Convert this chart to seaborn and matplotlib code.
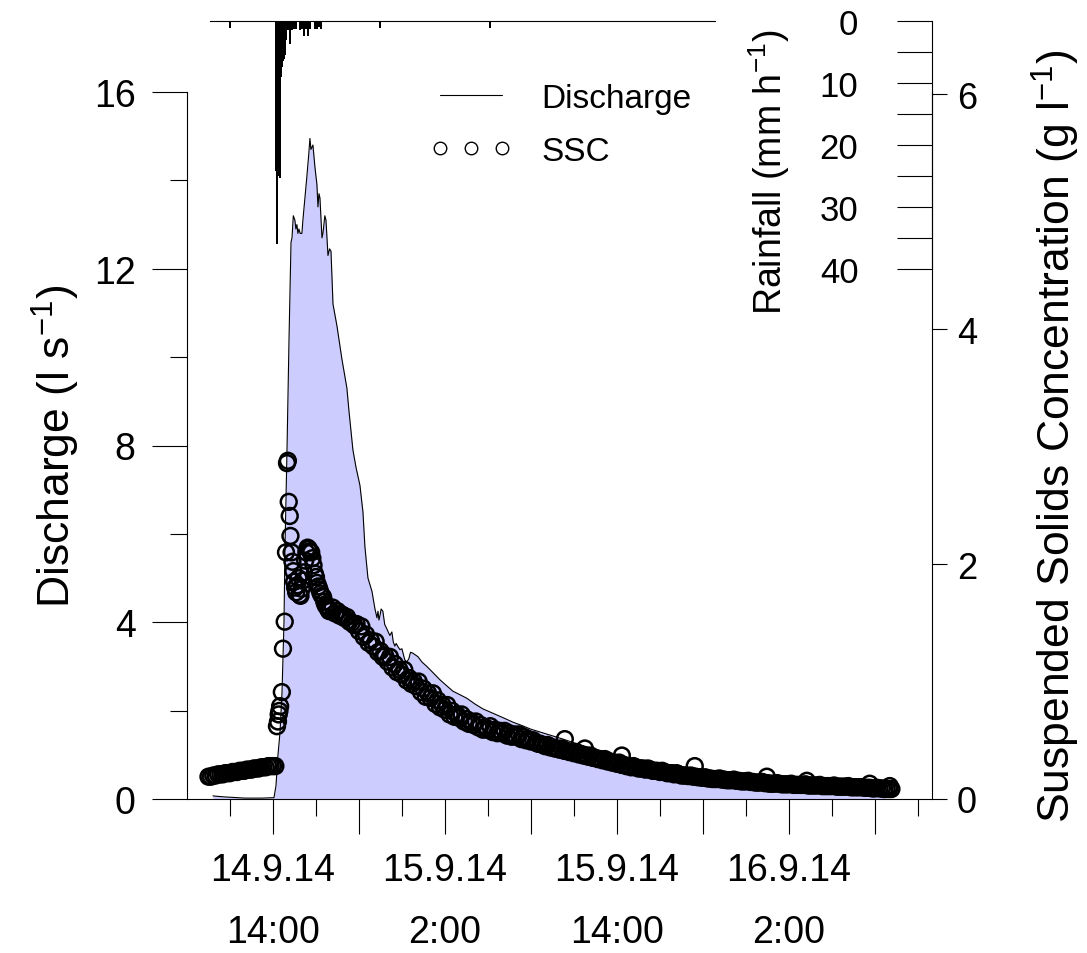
# Discharge, SSC and rainfall for the 14-16.9.14 event (hours after 14.9.14 00:00)

import numpy as np
import pandas as pd
import seaborn as sns
import matplotlib.pyplot as plt
from matplotlib.lines import Line2D

# Discharge (l/s)
q_hours = [9.81, 10.5, 11.0, 12.05, 13.23, 14.07, 14.21, 14.35, 14.49, 14.63, 14.77, 14.84,
           14.98, 15.12, 15.26, 15.33, 15.42, 15.53, 15.60, 15.67, 15.74, 15.81, 15.90, 16.02,
           16.09, 16.23, 16.37, 16.50, 16.58, 16.65, 16.72, 16.79, 16.93, 17.07, 17.14, 17.21,
           17.28, 17.42, 17.49, 17.62, 17.70, 17.84, 17.95, 18.05, 18.19, 18.47, 18.81, 19.16,
           19.30, 19.58, 19.80, 20.07, 20.28, 20.42, 20.63, 20.91, 21.12, 21.26, 21.33, 21.40,
           21.47, 21.55, 21.67, 21.80, 21.95, 22.16, 22.30, 22.40, 22.51, 22.60, 22.72, 22.86,
           23.00, 23.20, 23.35, 23.49, 23.60, 23.77, 24.12, 24.40, 24.74, 25.20, 25.65, 26.10,
           26.56, 27.05, 27.53, 28.10, 28.65, 29.5, 30.2, 30.74, 31.4, 32.0, 33.0, 34.2,
           35.5, 36.8, 38.5, 40.3, 42.0, 43.8, 45.5, 47.3, 49.0, 50.8, 52.5, 54.3, 55.5, 56.7]
q_values = [0.07, 0.05, 0.04, 0.02, 0.02, 0.03, 0.30, 1.0, 1.5, 2.4, 4.0, 5.7,
            7.9, 10.4, 12.6, 12.7, 13.2, 13.1, 12.9, 13.0, 12.8, 12.9, 12.8, 12.8,
            13.1, 13.6, 14.1, 14.6, 14.95, 14.7, 14.75, 14.8, 14.3, 13.9, 13.4, 13.7,
            13.6, 12.7, 12.8, 13.2, 13.1, 12.3, 12.45, 12.4, 11.2, 10.7, 9.96, 9.3,
            8.8, 7.9, 7.5, 7.1, 6.5, 5.7, 5.0, 4.7, 4.3, 4.1, 4.25, 4.05,
            4.15, 4.3, 4.25, 3.95, 3.85, 3.7, 3.78, 3.55, 3.46, 3.52, 3.45, 3.38,
            3.4, 3.15, 3.1, 3.18, 3.32, 3.3, 3.22, 3.1, 3.0, 2.85, 2.7, 2.57,
            2.44, 2.36, 2.28, 2.15, 2.04, 1.92, 1.82, 1.74, 1.66, 1.58, 1.48, 1.36,
            1.22, 1.10, 0.96, 0.82, 0.71, 0.60, 0.52, 0.45, 0.39, 0.33, 0.28, 0.24, 0.21, 0.17]

# SSC (g/l): pre-event logger (10 min), event samples, recession logger (10 min)
ssc_pre_hours = np.arange(9.5, 14.2, 1 / 6)
ssc_pre = [0.19, 0.19, 0.20, 0.20, 0.21, 0.21, 0.21, 0.22, 0.22, 0.22, 0.23, 0.23, 0.23, 0.24, 0.24,
           0.24, 0.25, 0.25, 0.25, 0.26, 0.26, 0.26, 0.27, 0.27, 0.27, 0.28, 0.28, 0.28, 0.28]

ssc_event_hours = [14.28, 14.35, 14.40, 14.45, 14.50, 14.62, 14.70, 14.82, 14.91, 14.98, 15.04,
                   15.10, 15.17, 15.22, 15.30, 15.36, 15.42, 15.48, 15.55, 15.62, 15.70, 15.78,
                   15.85, 15.92, 16.00, 16.08, 16.16, 16.25, 16.33, 16.42, 16.50, 16.58, 16.67,
                   16.75, 16.83, 16.92, 17.00, 17.08, 17.17, 17.25, 17.33, 17.42, 17.50, 17.58,
                   17.67, 17.75, 17.83, 17.92,
                   34.37, 35.77, 38.35, 43.44, 48.47, 51.26, 55.65, 57.05]
ssc_event = [0.62, 0.66, 0.72, 0.75, 0.79, 0.91, 1.28, 1.51, 2.10, 2.86, 2.88,
             2.53, 2.41, 2.24, 2.10, 2.02, 1.94, 1.85, 1.80, 1.76, 1.82, 1.88,
             1.74, 1.73, 1.79, 1.86, 1.93, 2.03, 2.10, 2.14, 2.13, 2.11, 2.10,
             2.05, 1.99, 1.92, 1.89, 1.84, 1.81, 1.78, 1.75, 1.73, 1.72, 1.68,
             1.65, 1.64, 1.62, 1.60,
             0.51, 0.43, 0.37, 0.28, 0.19, 0.155, 0.13, 0.11]

ssc_tail_hours = np.arange(18.0, 57.2, 1 / 6)
ssc_tail = [1.61, 1.63, 1.58, 1.60, 1.56, 1.57,   # 18 h
            1.54, 1.55, 1.51, 1.50, 1.48, 1.49,
            1.43, 1.47, 1.38, 1.40, 1.33, 1.35,   # 20 h
            1.30, 1.34, 1.25, 1.26, 1.21, 1.22,
            1.17, 1.21, 1.12, 1.15, 1.08, 1.10,
            1.06, 1.10, 1.01, 1.03, 0.98, 1.00,
            0.96, 1.00, 0.91, 0.94, 0.87, 0.90,   # 24 h
            0.86, 0.90, 0.81, 0.84, 0.78, 0.80,
            0.76, 0.80, 0.72, 0.75, 0.70, 0.72,
            0.69, 0.72, 0.66, 0.68, 0.64, 0.66,
            0.63, 0.66, 0.61, 0.63, 0.59, 0.61,   # 28 h
            0.59, 0.62, 0.57, 0.59, 0.56, 0.58,
            0.56, 0.58, 0.54, 0.56, 0.53, 0.55,
            0.53, 0.55, 0.51, 0.53, 0.50, 0.51,
            0.49, 0.50, 0.48, 0.47, 0.47, 0.46,   # 32 h
            0.45, 0.46, 0.44, 0.44, 0.43, 0.43,
            0.42, 0.43, 0.41, 0.41, 0.40, 0.40,
            0.39, 0.40, 0.38, 0.38, 0.37, 0.37,
            0.36, 0.37, 0.35, 0.35, 0.34, 0.34,   # 36 h
            0.33, 0.34, 0.32, 0.32, 0.31, 0.31,
            0.30, 0.31, 0.29, 0.29, 0.28, 0.28,
            0.27, 0.28, 0.27, 0.26, 0.26, 0.26,
            0.25, 0.26, 0.25, 0.24, 0.24, 0.24,   # 40 h
            0.23, 0.24, 0.23, 0.22, 0.22, 0.22,
            0.21, 0.22, 0.21, 0.20, 0.20, 0.20,
            0.195, 0.20, 0.19, 0.19, 0.185, 0.185,
            0.18, 0.185, 0.175, 0.175, 0.17, 0.17,   # 44 h
            0.17, 0.175, 0.165, 0.165, 0.16, 0.16,
            0.16, 0.165, 0.155, 0.155, 0.15, 0.15,
            0.15, 0.155, 0.145, 0.145, 0.14, 0.14,
            0.14, 0.145, 0.135, 0.135, 0.13, 0.13,   # 48 h
            0.13, 0.135, 0.13, 0.125, 0.125, 0.125,
            0.125, 0.13, 0.12, 0.12, 0.12, 0.12,
            0.12, 0.125, 0.115, 0.115, 0.115, 0.115,
            0.115, 0.12, 0.11, 0.11, 0.11, 0.11,   # 52 h
            0.11, 0.115, 0.105, 0.105, 0.105, 0.105,
            0.105, 0.11, 0.10, 0.10, 0.10, 0.10,
            0.10, 0.10, 0.095, 0.095, 0.095, 0.09,
            0.09, 0.095, 0.09, 0.09, 0.085, 0.085,   # 56 h
            0.085, 0.085]

# Rainfall intensity (mm/h)
rain_hours = [11.00, 14.21, 14.28, 14.35, 14.42, 14.49, 14.56, 14.63, 14.70, 14.77, 14.84,
              14.91, 15.05, 15.19, 15.33, 15.47, 15.60, 15.88, 16.02, 16.16, 16.30, 16.44,
              16.58, 16.93, 17.07, 17.21, 17.35, 21.47, 29.14]
rain_values = [1.2, 24.2, 36.0, 24.0, 25.0, 25.3, 9.0, 7.5, 6.5, 6.2, 5.5,
               3.0, 1.5, 3.7, 1.4, 1.3, 1.3, 1.4, 1.3, 2.4, 1.3, 2.4,
               1.3, 1.3, 1.3, 1.0, 1.3, 1.2, 1.2]

xtick_hours = [14, 20, 26, 32, 38, 44, 50, 56]
xtick_labels = ['14.9.14\n14:00', '', '15.9.14\n2:00', '', '15.9.14\n14:00', '', '16.9.14\n2:00', '']

ssc_hours = np.concatenate([ssc_pre_hours, ssc_event_hours, ssc_tail_hours])
ssc_values = np.concatenate([ssc_pre, ssc_event, ssc_tail])

sns.set_style("ticks")
plt.rcParams['font.family'] = ['Liberation Sans', 'DejaVu Sans']
plt.rcParams['mathtext.default'] = 'regular'
plt.rcParams['axes.edgecolor'] = 'black'
plt.rcParams['axes.linewidth'] = 0.8
plt.rcParams['xtick.color'] = 'black'
plt.rcParams['ytick.color'] = 'black'
plt.rcParams['text.color'] = 'black'
plt.rcParams['axes.labelcolor'] = 'black'

W, H = 1087, 954
fig = plt.figure(figsize=(W / 100, H / 100), dpi=100)

# discharge
ax = fig.add_axes([187 / W, 154 / H, 745 / W, 707 / H])
ax.fill_between(q_hours, q_values, color='#ccccff', lw=0)
sns.lineplot(x=q_hours, y=q_values, ax=ax, color='black', lw=0.8, estimator=None, sort=False)
ax.set_xlim(8, 60)
ax.set_ylim(0, 16)
for s in ['top', 'right']:
    ax.spines[s].set_visible(False)
ax.spines['left'].set_bounds(0, 16)
ax.set_yticks([0, 4, 8, 12, 16])
ax.set_yticks([2, 6, 10, 14], minor=True)
ax.set_xticks(xtick_hours)
ax.set_xticklabels(xtick_labels, linespacing=1.95)
ax.set_xticks([11, 17, 23, 29, 35, 41, 47, 53, 59], minor=True)
ax.tick_params(which='major', direction='out', length=25, width=0.8, labelsize=27,
               left=True, bottom=True)
ax.tick_params(which='minor', direction='out', length=12, width=0.8, left=True, bottom=True)
ax.tick_params(axis='y', which='major', pad=12)
ax.tick_params(axis='x', which='major', pad=13)
ax.set_xlabel('')
ax.set_ylabel('Discharge (l s$^{-1}$)', fontsize=32)
ax.yaxis.set_label_coords(-0.141, 0.5)

# suspended solids
ax2 = ax.twinx()
sns.scatterplot(x=ssc_hours, y=ssc_values, ax=ax2, s=130, marker='o', facecolor='none',
                edgecolor='black', linewidth=1.8, legend=False)
ax2.set_ylim(0, 6.02)
for s in ['top', 'left', 'bottom']:
    ax2.spines[s].set_visible(False)
ax2.set_yticks([0, 2, 4, 6])
ax2.tick_params(axis='y', direction='out', length=11, width=0.8, labelsize=26, pad=7, right=True)
ax2.set_ylabel('Suspended Solids Concentration (g l$^{-1}$)', fontsize=32)
ax2.yaxis.set_label_coords(1.1315, 0.515)

# rainfall, hanging from the top
axr = fig.add_axes([187 / W, 154 / H, 745 / W, 778 / H])
axr.patch.set_visible(False)
axr.bar(rain_hours, rain_values, width=0.1, color='black', lw=0)
axr.set_xlim(8, 60)
axr.set_ylim(125.5, 0)
axr.spines['bottom'].set_visible(False)
axr.spines['right'].set_visible(False)
axr.spines['left'].set_position(('axes', 1.0))
axr.spines['left'].set_bounds(0, 40)
axr.spines['top'].set_bounds(9.6, 44.84)
axr.set_xticks([])
axr.set_yticks([0, 10, 20, 30, 40])
axr.set_yticks([5, 15, 25, 35], minor=True)
axr.tick_params(axis='y', which='both', direction='out', length=25, width=0.8, labelsize=25,
                pad=28, left=True, right=False)
axr.set_ylabel('Rainfall (mm h$^{-1}$)', fontsize=27)
axr.yaxis.set_label_coords(0.812, 0.807)

handles = [Line2D([], [], color='black', lw=0.8),
           Line2D([], [], ls='none', marker='o', mfc='none', mec='black', ms=9, mew=1)]
fig.legend(handles, ['Discharge', 'SSC'], loc='upper left', bbox_to_anchor=(430 / W, 1 - 84 / H),
           frameon=False, fontsize=24, numpoints=3, handlelength=2.46, handletextpad=0.87,
           labelspacing=0.65, borderpad=0, borderaxespad=0)

fig.savefig('out.png', dpi=100)
